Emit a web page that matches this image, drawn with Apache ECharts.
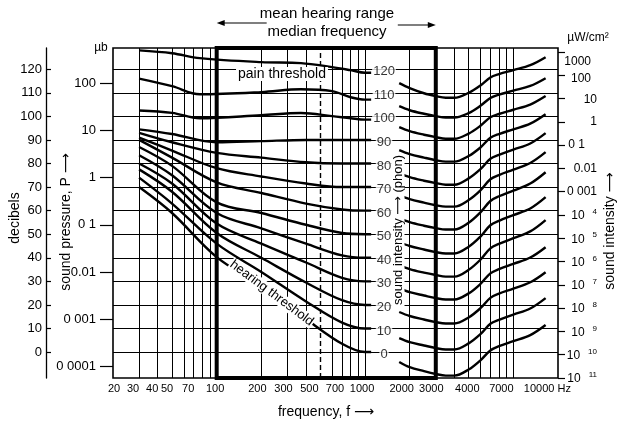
<!DOCTYPE html>
<html><head><meta charset="utf-8">
<script src="https://cdn.jsdelivr.net/npm/echarts@6/dist/echarts.min.js"></script>
<style>html,body{margin:0;padding:0;background:#fff}#c{width:619px;height:424px}</style>
</head><body><div id="c"></div>
<script>
// ---------------- data ----------------
const phonLevels = [0, 10, 20, 30, 40, 50, 60, 70, 80, 90, 100, 110, 120];
const lowFreqs = [30, 50, 100, 200, 400, 700, 1000, 1100];
const lowFreqsTop = [30, 50, 77, 200, 370, 600, 800, 1000, 1100];
const highFreqs = [1700, 2000, 2500, 3000, 3500, 4000, 5000, 6000, 7000, 8000, 10000, 13000, 16500];

const low0 = [70, 59, 40.3, 28, 14, 3.5, 0, 0];
const low10 = [74, 63, 46, 34, 21.5, 12.5, 10, 10];
const low20 = [77.5, 68, 50.5, 40, 29.5, 22, 20, 20];
const low30 = [80, 71.5, 54.5, 46, 38, 31.5, 30, 30];
const low40 = [83.5, 75, 59, 52.5, 46, 41, 40, 40];
const low50 = [87, 79, 63.5, 59, 54, 50.5, 50, 50];
const low60 = [90, 82.5, 72, 67.5, 63, 60.5, 60, 60];
const low70 = [91, 85.5, 78, 74.5, 71.5, 70, 70, 70];
const low80 = [93, 89, 84.5, 82.5, 80.5, 80, 80, 80];
const low90 = [94.5, 92.5, 89, 89.5, 90, 90, 90, 90];
const low100 = [102.5, 101.5, 99.2, 100.5, 101.4, 100.1, 99.2, 98.6, 98.6];
const low110 = [116, 112.8, 109.4, 110.3, 111.5, 110.7, 108.1, 107.1, 107.1];
const low120 = [128, 126.8, 124.7, 123, 122.6, 120.9, 119.6, 118.5, 118.5];

const high0 = [-4.2, -6.4, -8.1, -9.3, -10.0, -10.0, -7.4, -3.5, 0.7, 2.5, 4.6, 7.2, 11.5];
const high10 = [5.9, 4.2, 2.8, 1.7, 1.1, 1.1, 3.7, 7.6, 12.0, 13.7, 15.9, 18.5, 22.9];
const high20 = [17.0, 15.3, 13.8, 12.7, 12.1, 12.1, 14.7, 18.6, 23.0, 24.8, 26.9, 29.6, 33.9];
const high30 = [27.1, 25.4, 24.0, 22.9, 22.3, 22.3, 24.9, 28.9, 33.4, 35.2, 37.4, 40.1, 44.5];
const high40 = [36.9, 35.2, 33.7, 32.7, 32.0, 32.0, 34.9, 39.2, 44.0, 45.9, 48.3, 51.2, 56.0];
const high50 = [46.7, 45.0, 43.5, 42.4, 41.8, 41.8, 44.7, 49.0, 53.8, 55.7, 58.1, 60.9, 65.7];
const high60 = [56.8, 55.1, 53.6, 52.6, 52.0, 52.0, 54.9, 59.3, 64.1, 66.1, 68.5, 71.5, 76.3];
const high70 = [66.6, 64.9, 63.4, 62.3, 61.7, 61.7, 64.5, 68.6, 73.3, 75.1, 77.4, 80.2, 84.8];
const high80 = [75.9, 74.2, 72.7, 71.7, 71.0, 71.0, 73.7, 77.6, 82.0, 83.7, 85.9, 88.5, 92.9];
const high90 = [85.7, 84.0, 82.5, 81.4, 80.8, 80.8, 83.2, 86.8, 90.9, 92.5, 94.5, 96.9, 100.9];
const high100 = [95.4, 93.7, 92.2, 91.2, 90.5, 90.5, 92.7, 96.0, 99.6, 101.0, 102.8, 105.0, 108.6];
const high110 = [104.3, 102.6, 101.1, 100.1, 99.5, 99.5, 101.4, 104.5, 107.8, 109.2, 110.9, 112.9, 116.2];
const high120 = [114.1, 112.0, 109.8, 108.6, 107.9, 107.9, 110.0, 113.1, 116.5, 117.9, 119.6, 121.7, 125.1];

const gridFreqs = [30, 40, 50, 60, 70, 80, 90, 200, 300, 400, 600, 700, 800, 900, 1000, 2000, 4000, 5000, 6000, 7000, 8000, 9000, 10000];
const hearingRange = [100, 3000];
const medianFreq = 500;
const dbTicks = [0, 10, 20, 30, 40, 50, 60, 70, 80, 90, 100, 110, 120];
const freqLabels = [20, 30, 40, 50, 70, 100, 200, 300, 500, 700, 1000, 2000, 3000, 4000, 7000, 10000];
const pressureValues = [0.0001, 0.001, 0.01, 0.1, 1, 10, 100];
const pressureLabels = ['0 0001', '0 001', '0.01', '0 1', '1', '10', '100'];
const pressureRef = 0.0002; // µb at 0 dB
const intensityExps = [-11, -10, -9, -8, -7, -6, -5, -4, -3, -2, -1, 0, 1, 2, 3];
const intensityLabels = ['10|11', '10|10', '10|9', '10|8', '10|7', '10|6', '10|5', '10|4', '0 001', '0.01', '0 1', '1', '10', '100', '1000'];

// ---------------- chart ----------------
const FONT = "'Liberation Sans', 'DejaVu Sans', sans-serif";
const lowSets = [low0, low10, low20, low30, low40, low50, low60, low70, low80, low90, low100, low110, low120];
const highSets = [high0, high10, high20, high30, high40, high50, high60, high70, high80, high90, high100, high110, high120];
const pressureDb = pressureValues.map(p => 20 * Math.log10(p / pressureRef));

const curveSeries = [];
phonLevels.forEach((p, i) => {
  const fl = p >= 100 ? lowFreqsTop : lowFreqs;
  curveSeries.push({
    type: 'line', name: p + ' phon', data: fl.map((f, k) => [f, lowSets[i][k]]),
    showSymbol: false, smooth: 0.35, lineStyle: { color: '#000', width: 2.4 }, z: 3, silent: true
  });
  curveSeries.push({
    type: 'line', name: p + ' phon hi', data: highFreqs.map((f, k) => [f, highSets[i][k]]),
    showSymbol: false, smooth: 0.35, lineStyle: { color: '#000', width: 2.4 }, z: 3, silent: true
  });
});

const gridLineData = gridFreqs.map(f => ({ xAxis: f }))
  .concat(dbTicks.map(d => ({ yAxis: d })))
  .concat([{ xAxis: medianFreq, lineStyle: { type: [5, 3], width: 1.4 } }]);

const option = {
  animation: false,
  backgroundColor: '#fff',
  textStyle: { fontFamily: FONT, color: '#000' },
  grid: { left: 113, right: 61, top: 48, bottom: 46, show: true, borderColor: '#000', borderWidth: 1.6, backgroundColor: 'rgba(0,0,0,0)' },
  xAxis: [{
    type: 'log', logBase: 10, min: 20, max: 20000,
    axisLine: { show: false }, axisTick: { show: false }, axisLabel: { show: false }, splitLine: { show: false }
  }],
  yAxis: [
    {
      type: 'value', min: -11, max: 129, position: 'left', offset: 67,
      axisLine: { show: true, lineStyle: { color: '#000', width: 1.3 } },
      axisTick: { show: true, inside: true, length: 5, customValues: dbTicks, lineStyle: { color: '#000', width: 1.2 } },
      axisLabel: { customValues: dbTicks, margin: 4, color: '#000', fontSize: 13, fontFamily: FONT },
      splitLine: { show: false }
    },
    {
      type: 'value', min: -11, max: 129, position: 'left', offset: 0,
      axisLine: { show: false },
      axisTick: { show: true, length: 13, customValues: pressureDb, lineStyle: { color: '#000', width: 1.2 } },
      axisLabel: {
        customValues: pressureDb, margin: 17, color: '#000', fontSize: 13, fontFamily: FONT,
        formatter: v => {
          let best = 0;
          pressureDb.forEach((d, k) => { if (Math.abs(d - v) < Math.abs(pressureDb[best] - v)) best = k; });
          return pressureLabels[best];
        }
      },
      splitLine: { show: false }
    },
    {
      type: 'value', min: -11, max: 3.17, position: 'right',
      axisLine: { show: false },
      axisTick: { show: true, length: 7, customValues: intensityExps, lineStyle: { color: '#000', width: 1.2 } },
      axisLabel: {
        customValues: intensityExps, margin: 39, align: 'right', color: '#000', fontSize: 12, fontFamily: FONT,
        formatter: v => {
          const k = intensityExps.indexOf(Math.round(v));
          const t = intensityLabels[k] || '';
          if (t.indexOf('|') >= 0) { const s = t.split('|'); return '{b|' + s[0] + '}{g| }{s|' + s[1] + '}'; }
          if (t === '1000') return '{t3|1000}';
          if (t === '100') return '{t2|100}';
          if (t === '10') return '{t1|10}';
          if (t === '0 1') return '{p|0 1}';
          return '{n|' + t + '}';
        },
        rich: {
          n: { fontSize: 12, fontFamily: FONT },
          p: { fontSize: 12, fontFamily: FONT, padding: [0, 12, 0, 0] },
          b: { fontSize: 12, fontFamily: FONT, verticalAlign: 'bottom', lineHeight: 14 },
          g: { fontSize: 12, fontFamily: FONT, width: 8, verticalAlign: 'bottom', lineHeight: 14 },
          s: { fontSize: 8, fontFamily: FONT, verticalAlign: 'bottom', lineHeight: 14, padding: [0, 0, 6, 0] },
          t3: { fontSize: 12, fontFamily: FONT, padding: [20, 6, 0, 0] },
          t2: { fontSize: 12, fontFamily: FONT, padding: [7, 6, 0, 0] },
          t1: { fontSize: 12, fontFamily: FONT, padding: [2, 0, 0, 0] }
        }
      },
      splitLine: { show: false }
    }
  ],
  series: [
    {
      type: 'line', data: [], silent: true, z: 1,
      markLine: {
        silent: true, symbol: ['none', 'none'], label: { show: false }, animation: false,
        lineStyle: { color: '#000', width: 1, type: 'solid' },
        data: gridLineData
      },
      markArea: {
        silent: true, label: { show: false },
        itemStyle: { color: 'rgba(0,0,0,0)', borderColor: '#000', borderWidth: 4 },
        data: [[{ xAxis: hearingRange[0], yAxis: -11 }, { xAxis: hearingRange[1], yAxis: 129 }]]
      }
    },
    ...curveSeries,
    {
      type: 'scatter', name: 'phon labels', silent: true, z: 6,
      data: phonLevels.map(p => [1000, p]),
      symbolSize: 1, itemStyle: { color: 'rgba(0,0,0,0)' },
      label: {
        show: true, position: 'inside', offset: [19, 2.5], formatter: d => String(d.value[1]),
        color: '#000', fontSize: 13, fontFamily: FONT, backgroundColor: '#fff', padding: [0, 1]
      }
    }
  ]
};

const chart = echarts.init(document.getElementById('c'), null, { renderer: 'canvas' });
chart.setOption(option);

// ---------------- text annotations positioned through the axes ----------------
const P = (f, d) => chart.convertToPixel({ xAxisIndex: 0, yAxisIndex: 0 }, [f, d]);
const labelNudge = { 20: 1, 30: -6, 40: -5.5, 50: -5, 70: -5.5, 100: -1.5, 200: -4, 300: -4, 500: -11, 700: -7, 1000: -3, 2000: -8, 3000: -4.5, 4000: 13, 7000: 11, 10000: 34 };
const g = [];
function txt(x, y, text, size, opts) {
  opts = opts || {};
  g.push({
    type: 'text', x: x, y: y, rotation: opts.rot || 0, z: opts.z || 20,
    style: {
      text: text, x: 0, y: 0, fontSize: size, fontFamily: FONT, fill: '#000',
      align: opts.align || 'center', verticalAlign: 'middle', textAlign: opts.align || 'center', textVerticalAlign: 'middle',
      backgroundColor: opts.bg, padding: opts.pad
    }
  });
}
const yBottom = P(20, -11)[1];
const yTop = P(20, 129)[1];
freqLabels.forEach(f => {
  const x = P(f, 0)[0] + (labelNudge[f] || 0);
  txt(x, yBottom + 11, f === 10000 ? '10000 Hz' : String(f), 11);
});
txt(326, 412, 'frequency, f ⟶', 14);
txt(101, yTop, 'µb', 12);
txt(588, 38, 'µW/cm²', 12);
txt(15, 218, 'decibels', 14, { rot: Math.PI / 2 });
txt(66, 222, 'sound pressure, P ⟶', 14, { rot: Math.PI / 2 });
txt(610, 231, 'sound intensity ⟶', 14, { rot: Math.PI / 2 });
txt(398, 230, 'sound intensity ⟶ (phon)', 13, { rot: Math.PI / 2, bg: '#fff', pad: [0, 1] });
txt(327, 14, 'mean hearing range', 15);
txt(327, 32, 'median frequency', 15);
txt(282, 74, 'pain threshold', 14, { bg: '#fff', pad: [0, 2] });
const ht = P(235, 25);
txt(ht[0], ht[1], 'hearing threshold', 13, { rot: -0.64, bg: '#fff', pad: [0, 1] });

// range arrows (100 Hz .. 3000 Hz)
const xa = P(hearingRange[0], 0)[0], xb = P(hearingRange[1], 0)[0];
g.push({ type: 'line', shape: { x1: xa + 4, y1: 23, x2: xa + 50, y2: 23 }, style: { stroke: '#000', lineWidth: 1.2 } });
g.push({ type: 'polygon', shape: { points: [[xa, 23], [xa + 8, 20], [xa + 8, 26]] }, style: { fill: '#000' } });
g.push({ type: 'line', shape: { x1: xb - 38, y1: 25, x2: xb - 4, y2: 25 }, style: { stroke: '#000', lineWidth: 1.2 } });
g.push({ type: 'polygon', shape: { points: [[xb, 25], [xb - 8, 22], [xb - 8, 28]] }, style: { fill: '#000' } });

chart.setOption({ graphic: g });
</script></body></html>
